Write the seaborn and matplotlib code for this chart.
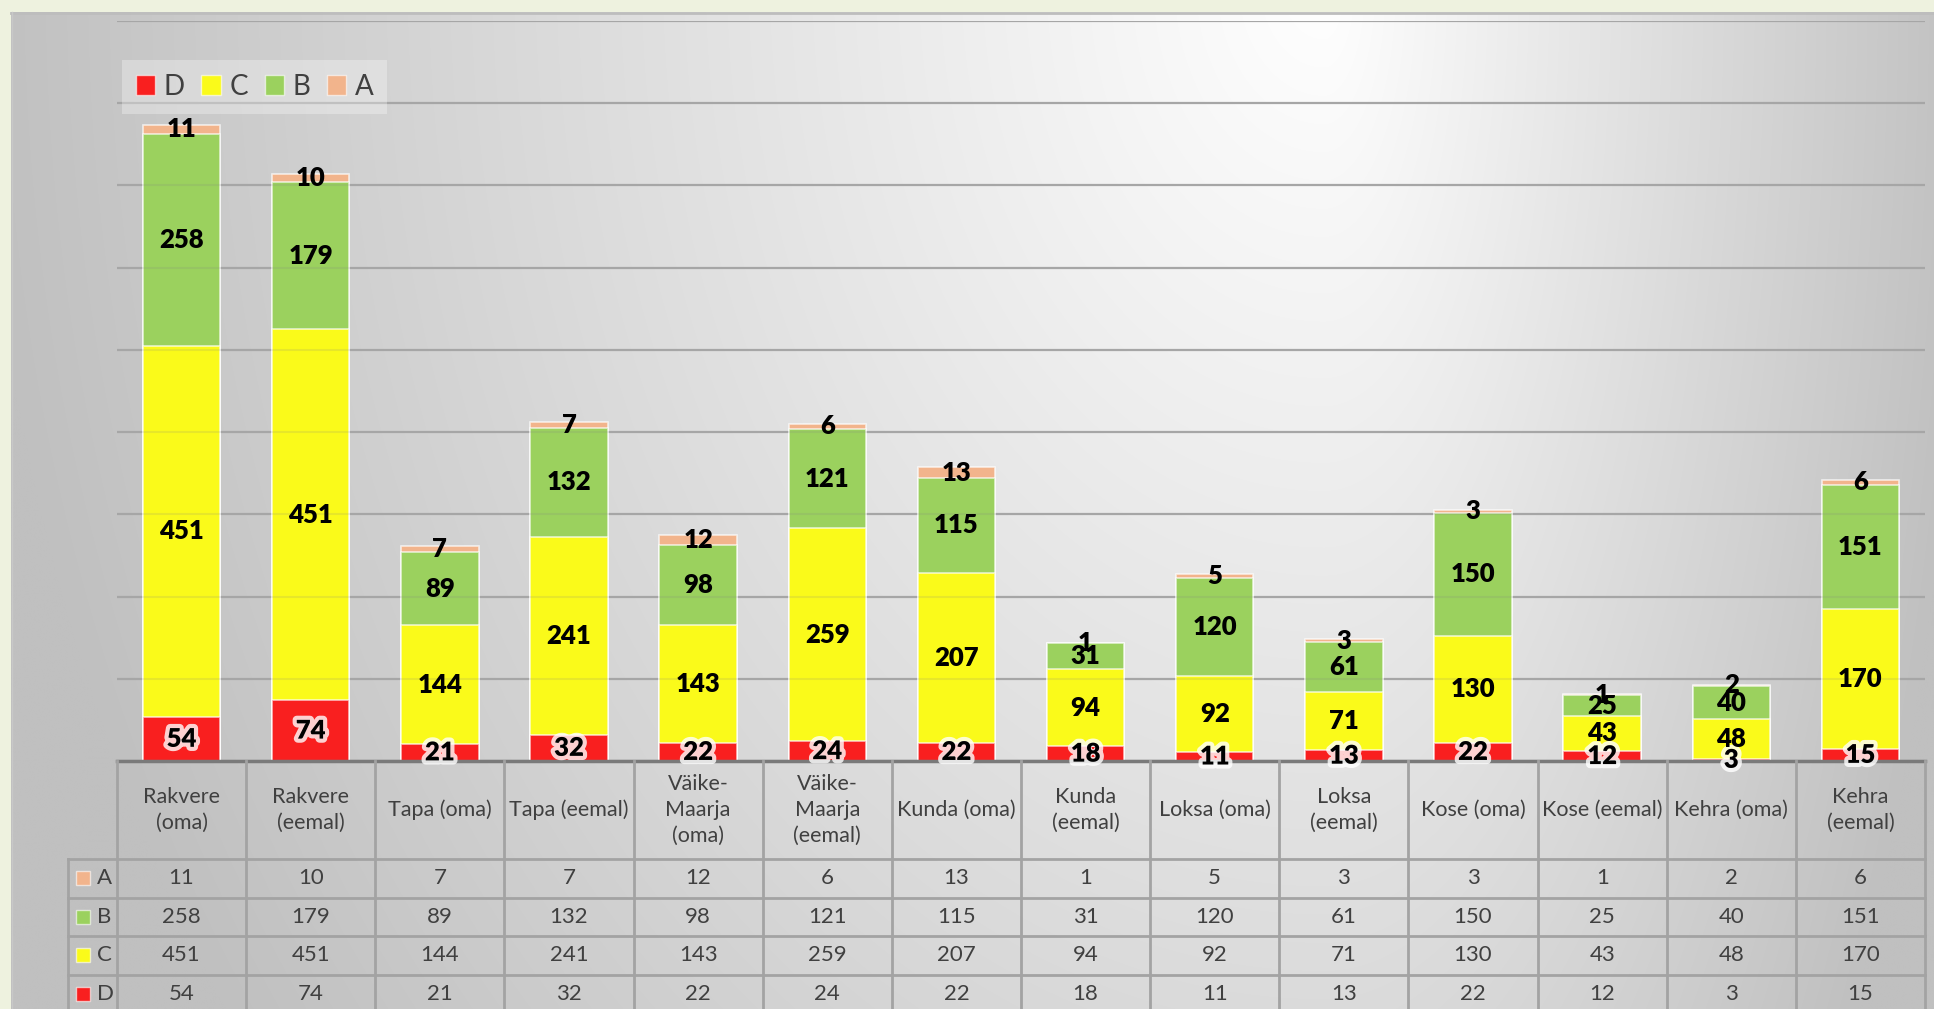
import numpy as np
import pandas as pd
import matplotlib.pyplot as plt
import matplotlib.patheffects as pe
from matplotlib.patches import Rectangle, Patch
import seaborn as sns

# andmed
categories = ['Rakvere (oma)', 'Rakvere (eemal)', 'Tapa (oma)', 'Tapa (eemal)',
              'Väike-Maarja (oma)', 'Väike-Maarja (eemal)', 'Kunda (oma)', 'Kunda (eemal)',
              'Loksa (oma)', 'Loksa (eemal)', 'Kose (oma)', 'Kose (eemal)',
              'Kehra (oma)', 'Kehra (eemal)']
header_labels = ['Rakvere\n(oma)', 'Rakvere\n(eemal)', 'Tapa (oma)', 'Tapa (eemal)',
                 'Väike-\nMaarja\n(oma)', 'Väike-\nMaarja\n(eemal)', 'Kunda (oma)', 'Kunda\n(eemal)',
                 'Loksa (oma)', 'Loksa\n(eemal)', 'Kose (oma)', 'Kose (eemal)',
                 'Kehra (oma)', 'Kehra\n(eemal)']
a_vals = [11, 10, 7, 7, 12, 6, 13, 1, 5, 3, 3, 1, 2, 6]
b_vals = [258, 179, 89, 132, 98, 121, 115, 31, 120, 61, 150, 25, 40, 151]
c_vals = [451, 451, 144, 241, 143, 259, 207, 94, 92, 71, 130, 43, 48, 170]
d_vals = [54, 74, 21, 32, 22, 24, 22, 18, 11, 13, 22, 12, 3, 15]

colors = {'D': '#f91f1f', 'C': '#fafa1a', 'B': '#9bd15e', 'A': '#f2b48c'}
layers = ['D', 'C', 'B', 'A']

df = pd.DataFrame({'kat': categories, 'A': a_vals, 'B': b_vals, 'C': c_vals, 'D': d_vals})
cum = df[layers].cumsum(axis=1)

W, H = 1934, 1009
plt.rcParams['font.family'] = ['Lato', 'DejaVu Sans']
fig = plt.figure(figsize=(W / 100, H / 100), dpi=100, facecolor='#eef2df')

# taust (hall gradient)
bg = fig.add_axes([0, 0, 1, 1], zorder=-10)
yy, xx = np.mgrid[0:H, 0:W]
sx = np.where(xx < 1320, 1350.0, 650.0)
r = np.clip(np.hypot((xx - 1320) / sx, (yy + 30) / 1800.0), 0, 1)
g = (255 - 63 * r) / 255
bg.imshow(np.dstack([g, g, g]), extent=(11, W, H, 12), aspect='auto')
bg.plot([11, W], [12.5, 12.5], color='#bdbdbd', lw=2)
bg.plot([11.5, 11.5], [12, H], color='#c8c8c8', lw=1)
bg.set_xlim(0, W)
bg.set_ylim(H, 0)
bg.axis('off')

# tulpdiagramm
ax = fig.add_axes([117 / W, (H - 761) / H, 1808 / W, 740 / H])
ax.set_facecolor('none')
for s in reversed(layers):
    sns.barplot(x=df['kat'], y=cum[s], order=categories, color=colors[s], saturation=1,
                width=0.6, errorbar=None, edgecolor=(1, 1, 1, 0.7), linewidth=1.2, ax=ax)

ax.set_xlim(-0.5, 13.5)
ax.set_ylim(0, 900)
ax.set_yticks(range(0, 901, 100))
ax.grid(axis='y', color='#adadad', lw=1.6)
ax.set_axisbelow(True)
ax.hlines(range(100, 901, 100), -0.5, 13.5, color='#808080', alpha=0.15, lw=1.5, zorder=5)
ax.tick_params(left=False, labelleft=False, bottom=False, labelbottom=False)
ax.set_xlabel('')
ax.set_ylabel('')
for sp in ['top', 'left', 'right']:
    ax.spines[sp].set_visible(False)
ax.spines['bottom'].set_color('#7a7a7a')
ax.spines['bottom'].set_linewidth(2.5)

glow = [pe.withStroke(linewidth=6, foreground=(1, 1, 1, 0.8))]
for s in layers:
    centers = cum[s] - df[s] / 2
    for i, (v, yc) in enumerate(zip(df[s], centers)):
        t = ax.text(i, yc, str(v), ha='center', va='center', fontsize=18.5,
                    fontweight='heavy', color='black', zorder=7)
        if s == 'D':
            t.set_path_effects(glow)

handles = [Patch(facecolor=colors[s], edgecolor=(1, 1, 1, 0.6)) for s in layers]
ax.legend(handles, layers, ncol=4, loc='upper left',
          bbox_to_anchor=(5 / 1808, (761 - 60) / 740), frameon=True, fancybox=False,
          facecolor='white', framealpha=0.3, edgecolor='none', fontsize=20,
          labelcolor='#404040', handlelength=0.7, handleheight=0.7, handletextpad=0.3,
          columnspacing=0.6, borderpad=0.5, borderaxespad=0)

# andmetabel
tab = fig.add_axes([117 / W, 0, 1808 / W, 248 / H])
tab.set_facecolor('none')
tab.set_xlim(-0.5, 13.5)
tab.set_ylim(248, 0)
tab.axis('off')
lc = '#a3a3a3'
x_lab = -0.5 - 49 / 129.14
head_h, row_h = 98, 38.5
for k in range(5):
    y = head_h + row_h * k
    tab.plot([x_lab, 13.5], [y, y], color=lc, lw=2, clip_on=False)
for i in range(15):
    tab.plot([i - 0.5, i - 0.5], [0, 260], color=lc, lw=2, clip_on=False)
tab.plot([x_lab, x_lab], [head_h, 260], color=lc, lw=2, clip_on=False)

for i, lab in enumerate(header_labels):
    tab.text(i, head_h / 2, lab, ha='center', va='center', fontsize=15.5,
             color='#404040', linespacing=1.35)

row_names = ['A', 'B', 'C', 'D']
for k, s in enumerate(row_names):
    yc = head_h + row_h * k + row_h / 2
    sq = 14 / 129.14
    tab.add_patch(Rectangle((-0.5 - 41 / 129.14, yc - 7), sq, 14, facecolor=colors[s],
                            edgecolor=(1, 1, 1, 0.6), lw=1, clip_on=False))
    tab.text(-0.5 - 20 / 129.14, yc, s, ha='left', va='center', fontsize=16, color='#404040')
    for i, v in enumerate(df[s]):
        tab.text(i, yc, str(v), ha='center', va='center', fontsize=16, color='#404040')

fig.savefig('out.png', dpi=100, facecolor=fig.get_facecolor())
